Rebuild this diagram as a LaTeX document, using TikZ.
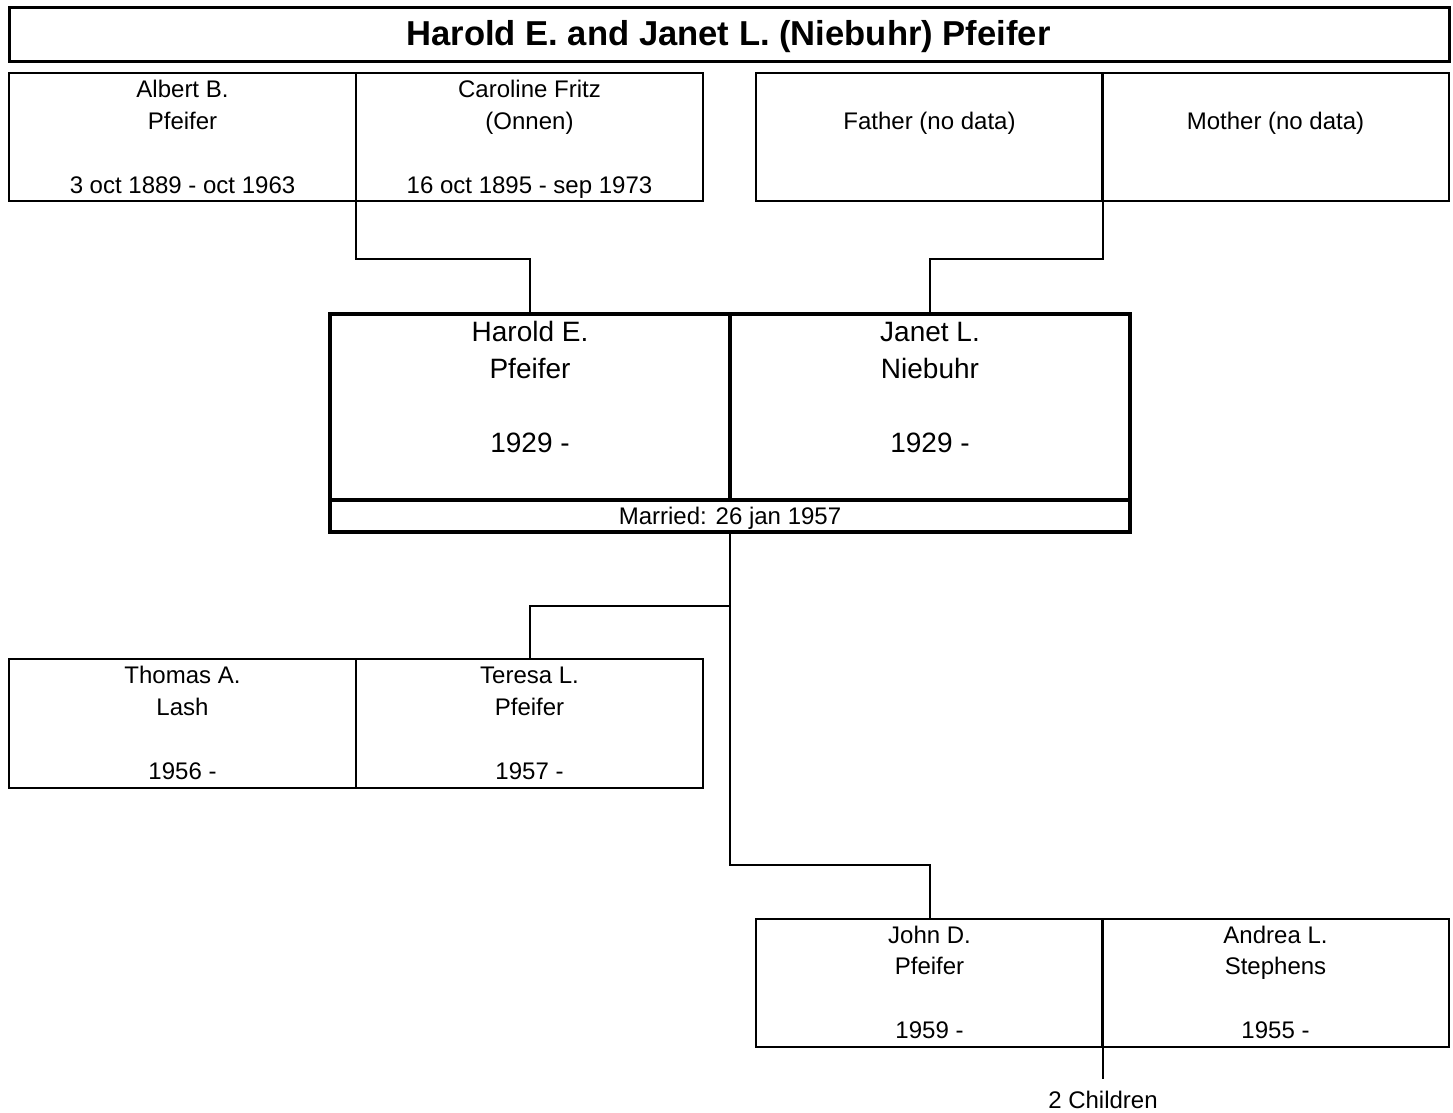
\documentclass[tikz,border=0pt]{standalone}
\usepackage{fontspec}
\setmainfont{Liberation Sans}
\begin{document}
\begin{tikzpicture}[x=1pt,y=-1pt,
  thinbox/.style={draw=black, line width=1.5pt, rectangle, inner sep=0pt, outer sep=0pt, minimum width=347pt, minimum height=128pt},
  bigbox/.style={draw=black, line width=3.5pt, rectangle, inner sep=0pt, outer sep=0pt, minimum width=400pt, minimum height=186pt},
  conn/.style={draw=black, line width=2pt},
  smalltxt/.style={anchor=base, inner sep=0pt, font=\fontsize{24}{24}\selectfont},
  bigtxt/.style={anchor=base, inner sep=0pt, font=\fontsize{28}{28}\selectfont},
  titletxt/.style={anchor=base, inner sep=0pt, font=\fontsize{34.6}{34.6}\selectfont\bfseries}
]
\path[fill=white] (0,0) rectangle (1453,1112);
\useasboundingbox (0,0) rectangle (1453,1112);

% title
\node[draw=black, line width=3pt, rectangle, inner sep=0pt, minimum width=1440pt, minimum height=54pt] (titlebox) at (729,34) {};
\node[titletxt] (title) at (728.5,45) {Harold E. and Janet L. (Niebuhr) Pfeifer};

% grandparents
\node[thinbox] (albert) at (182.5,137) {};
\node[thinbox] (caroline) at (529.5,137) {};
\node[thinbox] (father) at (929.5,137) {};
\node[thinbox] (mother) at (1275.5,137) {};

\node[smalltxt] (albertA) at (182.5,97) {Albert B.};
\node[smalltxt] (albertB) at (182.5,129) {Pfeifer};
\node[smalltxt] (albertC) at (182.5,193) {3 oct 1889 - oct 1963};
\node[smalltxt] (carolineA) at (529.5,97) {Caroline Fritz};
\node[smalltxt] (carolineB) at (529.5,129) {(Onnen)};
\node[smalltxt] (carolineC) at (529.5,193) {16 oct 1895 - sep 1973};
\node[smalltxt] (fatherA) at (929.5,129) {Father (no data)};
\node[smalltxt] (motherA) at (1275.5,129) {Mother (no data)};

% main couple
\node[bigbox] (harold) at (530,407) {};
\node[bigbox] (janet) at (930,407) {};
\node[draw=black, line width=3.5pt, rectangle, inner sep=0pt, outer sep=0pt, minimum width=800pt, minimum height=32pt] (married) at (730,516) {};

\node[bigtxt] (haroldA) at (530,341) {Harold E.};
\node[bigtxt] (haroldB) at (530,378) {Pfeifer};
\node[bigtxt] (haroldC) at (530,452) {1929 -};
\node[bigtxt] (janetA) at (930,341) {Janet L.};
\node[bigtxt] (janetB) at (930,378) {Niebuhr};
\node[bigtxt] (janetC) at (930,452) {1929 -};
\node[smalltxt] (marriedA) at (730,524) {Married: 26 jan 1957};

% children
\node[thinbox, minimum height=129pt] (thomas) at (182.5,723.5) {};
\node[thinbox, minimum height=129pt] (teresa) at (529.5,723.5) {};
\node[smalltxt] (thomasA) at (182.5,683) {Thomas A.};
\node[smalltxt] (thomasB) at (182.5,715) {Lash};
\node[smalltxt] (thomasC) at (182.5,779) {1956 -};
\node[smalltxt] (teresaA) at (529.5,683) {Teresa L.};
\node[smalltxt] (teresaB) at (529.5,715) {Pfeifer};
\node[smalltxt] (teresaC) at (529.5,779) {1957 -};

\node[thinbox] (john) at (929.5,983) {};
\node[thinbox] (andrea) at (1275.5,983) {};
\node[smalltxt] (johnA) at (929.5,943) {John D.};
\node[smalltxt] (johnB) at (929.5,974) {Pfeifer};
\node[smalltxt] (johnC) at (929.5,1038) {1959 -};
\node[smalltxt] (andreaA) at (1275.5,943) {Andrea L.};
\node[smalltxt] (andreaB) at (1275.5,974) {Stephens};
\node[smalltxt] (andreaC) at (1275.5,1038) {1955 -};

\node[anchor=base, inner xsep=0pt, inner ysep=11pt, font=\fontsize{24}{24}\selectfont] (kids) at (1103,1108) {2 Children};

% connectors
\draw[conn] (albert.south east) -- ++(0,58) -| (harold.north);
\draw[conn] (father.south east) -- ++(0,58) -| (janet.north);
\draw[conn] (married.south) -- ++(0,74) -| (teresa.north);
\draw[conn] (married.south) -- ++(0,333) -| (john.north);
\draw[conn] (john.south east) -- (kids.north);
\end{tikzpicture}
\end{document}
